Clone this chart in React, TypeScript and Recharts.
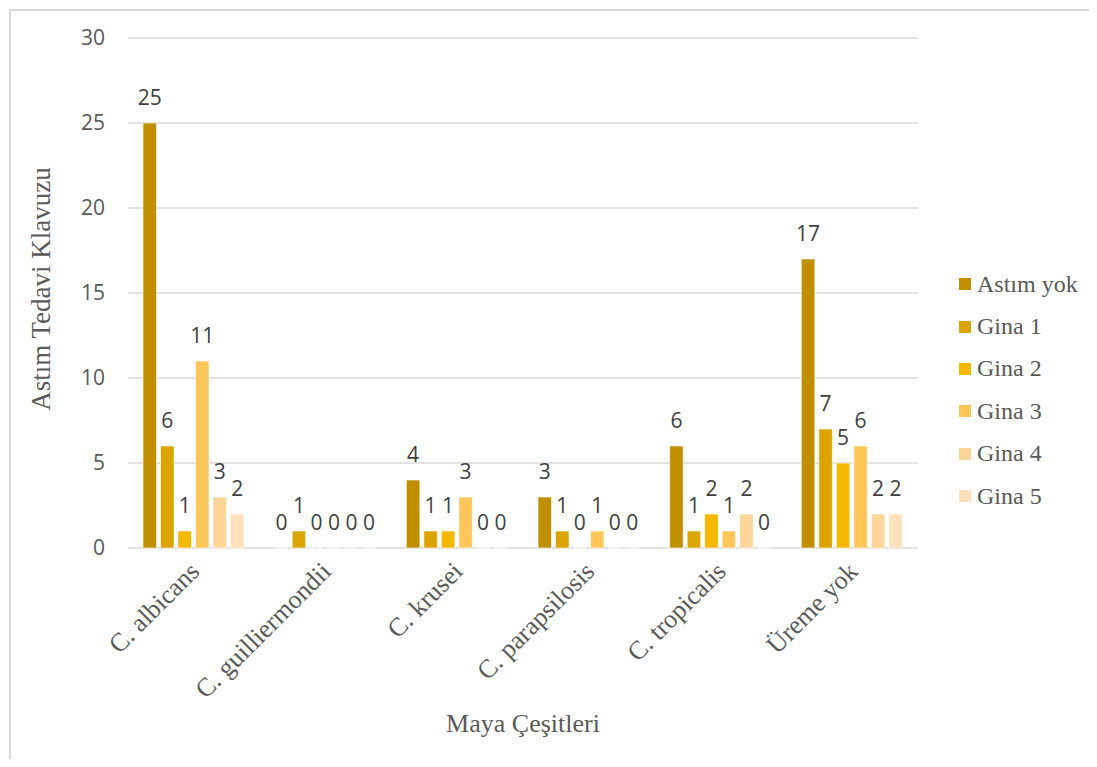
import React from 'react';
import { BarChart, Bar, XAxis, YAxis, CartesianGrid, LabelList, Label } from 'recharts';

// yeast species on the x axis
const categories = [
  'C. albicans',
  'C. guilliermondii',
  'C. krusei',
  'C. parapsilosis',
  'C. tropicalis',
  'Üreme yok',
];

// counts per asthma treatment step
const astimYok = [25, 0, 4, 3, 6, 17];
const gina1 = [6, 1, 1, 1, 1, 7];
const gina2 = [1, 0, 1, 0, 2, 5];
const gina3 = [11, 0, 3, 1, 1, 6];
const gina4 = [3, 0, 0, 0, 2, 2];
const gina5 = [2, 0, 0, 0, 0, 2];

const yTicks = [0, 5, 10, 15, 20, 25, 30];

const SERIES = [
  { key: 'astimYok', name: 'Astım yok', values: astimYok, color: '#BF8F00' },
  { key: 'gina1', name: 'Gina 1', values: gina1, color: '#DBA400' },
  { key: 'gina2', name: 'Gina 2', values: gina2, color: '#F4B800' },
  { key: 'gina3', name: 'Gina 3', values: gina3, color: '#FFC75A' },
  { key: 'gina4', name: 'Gina 4', values: gina4, color: '#FFD699' },
  { key: 'gina5', name: 'Gina 5', values: gina5, color: '#FFE2BD' },
];

const data = categories.map((name, i) => {
  const row: Record<string, string | number> = { name };
  SERIES.forEach((s) => {
    row[s.key] = s.values[i];
  });
  return row;
});

const SERIF = '"Liberation Serif", "Times New Roman", serif';
const SANS = '"Open Sans", "Noto Sans", sans-serif';

const CategoryTick = (props: any) => {
  const { x, y, payload } = props;
  const tx = x + 7;
  const ty = y + 17;
  return (
    <text
      x={tx}
      y={ty}
      transform={`rotate(-45 ${tx} ${ty})`}
      textAnchor="end"
      fontFamily={SERIF}
      fontSize={26}
      fill="#595959"
    >
      {payload.value}
    </text>
  );
};

// value label above each bar, zeros included
const ValueLabel = (props: any) => {
  const { x, y, width, height, value } = props;
  const top = Math.min(y, y + height);
  return (
    <text
      x={x + width / 2}
      y={top - 18}
      textAnchor="middle"
      fontFamily={SANS}
      fontSize={21}
      fill="#404040"
    >
      {String(value)}
    </text>
  );
};

export default function App() {
  return (
    <div style={{ position: 'relative', width: 1089, height: 751, overflow: 'hidden' }}>
      <div
        style={{
          position: 'absolute',
          left: 1,
          top: 1,
          width: 1200,
          height: 800,
          borderLeft: '2px solid #d9d9d9',
          borderTop: '2px solid #d9d9d9',
        }}
      />
      <BarChart
        width={1089}
        height={751}
        data={data}
        margin={{ top: 30, right: 179, bottom: 61, left: 0 }}
        barSize={13.5}
        barGap={4}
        style={{ position: 'absolute', left: 0, top: 0 }}
      >
        <CartesianGrid vertical={false} stroke="#d9d9d9" strokeWidth={1.5} />
        <XAxis
          dataKey="name"
          height={150}
          axisLine={false}
          tickLine={false}
          interval={0}
          tick={<CategoryTick />}
        >
          <Label
            content={(p: any) => {
              const vb = p.viewBox || {};
              return (
                <text
                  x={vb.x + vb.width / 2}
                  y={724}
                  textAnchor="middle"
                  fontFamily={SERIF}
                  fontSize={26}
                  fill="#595959"
                >
                  Maya Çeşitleri
                </text>
              );
            }}
          />
        </XAxis>
        <YAxis
          width={120}
          domain={[0, 30]}
          ticks={yTicks}
          axisLine={false}
          tickLine={false}
          tickSize={0}
          tickMargin={23}
          tick={{ fontFamily: SANS, fontSize: 21, fill: '#595959' }}
        >
          <Label
            content={(p: any) => {
              const vb = p.viewBox || {};
              const cx = 42;
              const cy = vb.y + vb.height / 2 - 4;
              return (
                <text
                  x={cx}
                  y={cy}
                  transform={`rotate(-90 ${cx} ${cy})`}
                  textAnchor="middle"
                  fontFamily={SERIF}
                  fontSize={27}
                  fill="#595959"
                >
                  Astım Tedavi Klavuzu
                </text>
              );
            }}
          />
        </YAxis>
        {SERIES.map((s) => (
          <Bar
            key={s.key}
            dataKey={s.key}
            name={s.name}
            fill={s.color}
            stroke="#ffffff"
            strokeOpacity={0.6}
            strokeWidth={1}
            minPointSize={0.01}
            isAnimationActive={false}
          >
            <LabelList dataKey={s.key} content={<ValueLabel />} />
          </Bar>
        ))}
      </BarChart>
      {/* legend on the right, one row per series */}
      <div style={{ position: 'absolute', left: 951, top: 255 }}>
        {SERIES.map((s) => (
          <div
            key={s.key}
            style={{ display: 'flex', alignItems: 'center', height: 42.4 }}
          >
            <span
              style={{ width: 12, height: 12, background: s.color, marginRight: 6 }}
            />
            <span style={{ fontFamily: SERIF, fontSize: 24, color: '#595959' }}>
              {s.name}
            </span>
          </div>
        ))}
      </div>
    </div>
  );
}
